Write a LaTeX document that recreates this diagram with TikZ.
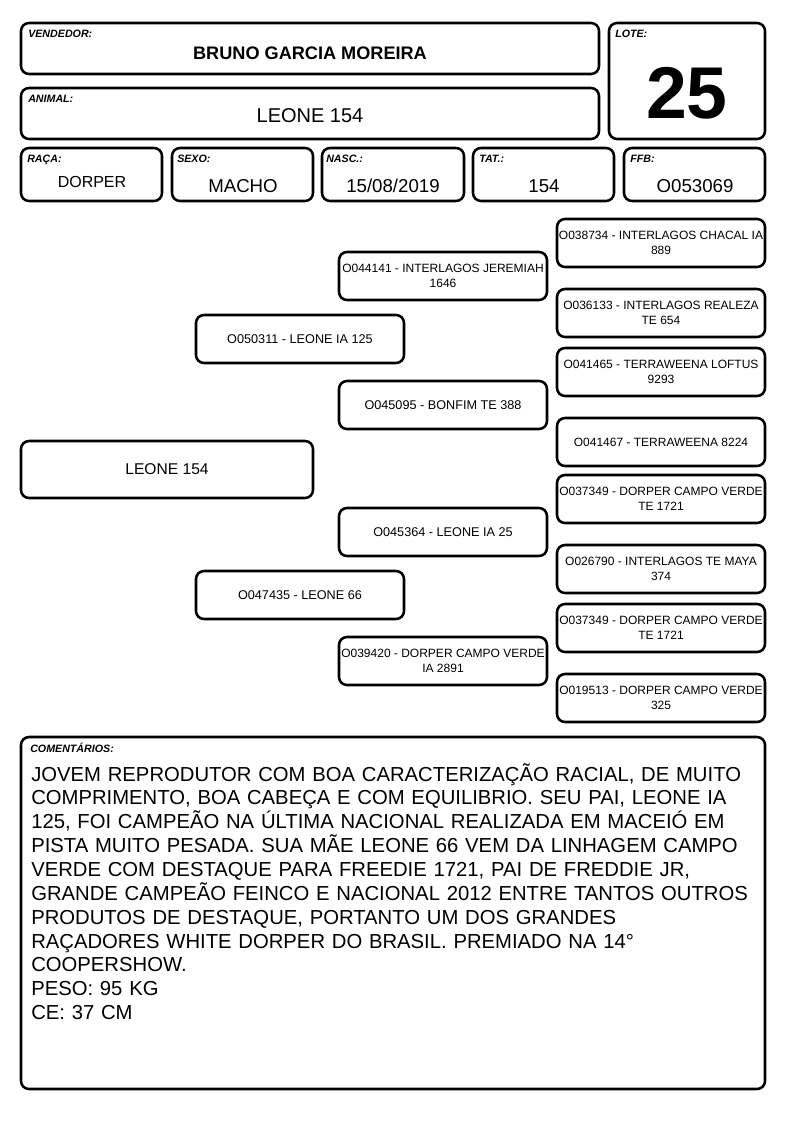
\documentclass[tikz,border=0pt]{standalone}
\usepackage{fontspec}
\setmainfont{Liberation Sans}
\usetikzlibrary{fit}
\tikzset{
  box/.style={draw, line width=1.9pt, rounded corners=6pt, inner sep=0pt},
  lbl/.style={anchor=base west, inner sep=0pt, font=\fontsize{8}{9}\selectfont\bfseries\itshape},
  val/.style={anchor=base, inner sep=0pt, font=\fontsize{14}{16}\selectfont},
  ped/.style={align=center, inner sep=0pt, font=\fontsize{9}{11.25}\selectfont},
}
\begin{document}
\begin{tikzpicture}[x=0.75pt,y=-0.75pt]
\useasboundingbox (0,0) rectangle (794,1123);
% header boxes
\node[box, fit={(21,23)(599,74)}] (vend) {};
\node[box, fit={(609,23)(765,139)}] (lote) {};
\node[box, fit={(21,88)(599,139)}] (anim) {};
\node[box, fit={(21,148)(162,201)}] (raca) {};
\node[box, fit={(172,148)(313,201)}] (sexo) {};
\node[box, fit={(322,148)(464,201)}] (nasc) {};
\node[box, fit={(473,148)(614,201)}] (tat) {};
\node[box, fit={(624,148)(765,201)}] (ffb) {};
% labels
\node[lbl] (lvend) at (28,38) {VENDEDOR:};
\node[lbl] (llote) at (615,38) {LOTE:};
\node[lbl] (lanim) at (28,103) {ANIMAL:};
\node[lbl] (lraca) at (27,163) {RAÇA:};
\node[lbl] (lsexo) at (177,163) {SEXO:};
\node[lbl] (lnasc) at (326,163) {NASC.:};
\node[lbl] (ltat) at (479,163) {TAT.:};
\node[lbl] (lffb) at (630,163) {FFB:};
% values
\node[val, font=\fontsize{13.6}{16}\selectfont\bfseries] (tvend) at (310,60) {BRUNO GARCIA MOREIRA};
\node[val, font=\fontsize{15}{18}\selectfont] (tanim) at (310,123) {LEONE 154};
\node[val, font=\fontsize{55}{60}\selectfont\bfseries] (tlote) at (687,119) {25};
\node[val, font=\fontsize{12}{14}\selectfont] (traca) at (92,188) {DORPER};
\node[val] (tsexo) at (243,193) {MACHO};
\node[val] (tnasc) at (393,193) {15/08/2019};
\node[val] (ttat) at (544,193) {154};
\node[val] (tffb) at (695,193) {O053069};
% pedigree
\node[box, fit={(21,441)(313,498)}] (p0) {};
\node[ped, font=\fontsize{11.7}{14}\selectfont] at (p0.center) {LEONE 154};
\node[box, fit={(196,315)(404,363)}] (ps) {};
\node[ped, font=\fontsize{9.5}{11.25}\selectfont] at (ps.center) {O050311 - LEONE IA 125};
\node[box, fit={(196,571)(404,619)}] (pd) {};
\node[ped, font=\fontsize{9.5}{11.25}\selectfont] at (pd.center) {O047435 - LEONE 66};
\node[box, fit={(339,252)(547,300)}] (pss) {};
\node[ped] at (pss.center) {O044141 - INTERLAGOS JEREMIAH\\1646};
\node[box, fit={(339,381)(547,429)}] (psd) {};
\node[ped, font=\fontsize{9.5}{11.25}\selectfont] at (psd.center) {O045095 - BONFIM TE 388};
\node[box, fit={(339,508)(547,556)}] (pds) {};
\node[ped, font=\fontsize{9.5}{11.25}\selectfont] at (pds.center) {O045364 - LEONE IA 25};
\node[box, fit={(339,637)(547,685)}] (pdd) {};
\node[ped] at (pdd.center) {O039420 - DORPER CAMPO VERDE\\IA 2891};
\node[box, fit={(557,219)(765,267)}] (r1) {};
\node[ped] at (r1.center) {O038734 - INTERLAGOS CHACAL IA\\889};
\node[box, fit={(557,289)(765,337)}] (r2) {};
\node[ped] at (r2.center) {O036133 - INTERLAGOS REALEZA\\TE 654};
\node[box, fit={(557,348)(765,396)}] (r3) {};
\node[ped] at (r3.center) {O041465 - TERRAWEENA LOFTUS\\9293};
\node[box, fit={(557,418)(765,466)}] (r4) {};
\node[ped] at (r4.center) {O041467 - TERRAWEENA 8224};
\node[box, fit={(557,475)(765,523)}] (r5) {};
\node[ped] at (r5.center) {O037349 - DORPER CAMPO VERDE\\TE 1721};
\node[box, fit={(557,545)(765,593)}] (r6) {};
\node[ped] at (r6.center) {O026790 - INTERLAGOS TE MAYA\\374};
\node[box, fit={(557,604)(765,652)}] (r7) {};
\node[ped] at (r7.center) {O037349 - DORPER CAMPO VERDE\\TE 1721};
\node[box, fit={(557,674)(765,722)}] (r8) {};
\node[ped] at (r8.center) {O019513 - DORPER CAMPO VERDE\\325};
% comments
\node[box, fit={(21,737)(765,1089)}] (comm) {};
\node[lbl] (lcomm) at (30,752) {COMENTÁRIOS:};
\node[anchor=base west, inner sep=0pt, text width=545pt, align=left, font=\fontsize{15.2}{17.9}\selectfont] (tcomm) at (31,781) {JOVEM REPRODUTOR COM BOA CARACTERIZAÇÃO RACIAL, DE MUITO\\
COMPRIMENTO, BOA CABEÇA E COM EQUILIBRIO. SEU PAI, LEONE IA\\
125, FOI CAMPEÃO NA ÚLTIMA NACIONAL REALIZADA EM MACEIÓ EM\\
PISTA MUITO PESADA. SUA MÃE LEONE 66 VEM DA LINHAGEM CAMPO\\
VERDE COM DESTAQUE PARA FREEDIE 1721, PAI DE FREDDIE JR,\\
GRANDE CAMPEÃO FEINCO E NACIONAL 2012 ENTRE TANTOS OUTROS\\
PRODUTOS DE DESTAQUE, PORTANTO UM DOS GRANDES\\
RAÇADORES WHITE DORPER DO BRASIL. PREMIADO NA 14°\\
COOPERSHOW.\\
PESO: 95 KG\\
CE: 37 CM};
\end{tikzpicture}
\end{document}
